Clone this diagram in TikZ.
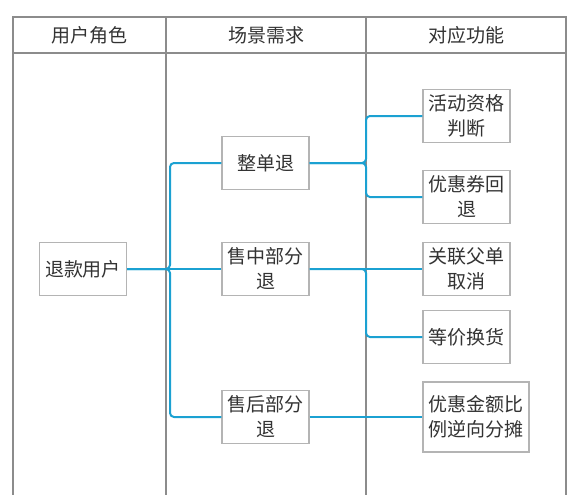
\documentclass[tikz,border=0pt]{standalone}
\usepackage{fontspec}
\newfontfamily\cjk{Noto Sans CJK SC}
\usetikzlibrary{positioning}
\definecolor{linkblue}{HTML}{1BA1D2}
\definecolor{lanegray}{HTML}{8C8C8C}
\definecolor{boxgray}{HTML}{B4B4B4}
\definecolor{txtgray}{HTML}{333333}

\begin{document}
\begin{tikzpicture}
        [x = 1pt, y = -1pt,
        every node/.style = {font = {\cjk\fontsize{19}{25}\selectfont}, text = txtgray},
        box/.style = {draw = boxgray, line width = 1.2pt, fill = white, minimum width = 87pt,
            minimum height = 53pt, align = center, inner sep = 2pt},
        lane/.style = {draw = lanegray, line width = 1.6pt},
        link/.style = {draw = linkblue, line width = 2pt, rounded corners = 4pt}]
        \useasboundingbox (0, 0) rectangle (573, 495);
        % swimlanes
        \draw[lane] (13, 495) -- (13, 17) -- (566, 17) -- (566, 495);
        \draw[lane] (13, 53) -- (566, 53);
        \draw[lane] (166, 17) -- (166, 495);
        \draw[lane] (366, 17) -- (366, 495);
        \node (role) at (89.5, 35) {用户角色};
        \node (scene) at (266, 35) {场景需求};
        \node (func) at (466, 35) {对应功能};
        % nodes
        \node (user) [box] at (83, 269) {退款用户};
        \node (whole) [box] at (265.5, 163) {整单退};
        \node (mid) [box] at (265.5, 269) {售中部分\\退};
        \node (after) [box] at (265.5, 417) {售后部分\\退};
        \node (check) [box] at (466.5, 116) {活动资格\\判断};
        \node (coupon) [box] at (466.5, 197) {优惠券回\\退};
        \node (parent) [box] at (466.5, 269) {关联父单\\取消};
        \node (swap) [box] at (466.5, 337) {等价换货};
        \node (share) [box, minimum width = 106pt, minimum height = 70pt] at (476, 417) {优惠金额比\\例逆向分摊};
        % connectors
        \coordinate (bus1) at (170, 269);
        \coordinate (bus2) at (366, 163);
        \coordinate (bus3) at (366, 269);
        \draw[link] (user.east) -- (bus1) |- (whole.west);
        \draw[link] (user.east) -- (bus1) |- (after.west);
        \draw[link] (user.east) -- (mid.west);
        \draw[link] (whole.east) -- (bus2) |- (check.west);
        \draw[link] (whole.east) -- (bus2) |- (coupon.west);
        \draw[link] (mid.east) -- (bus3) |- (swap.west);
        \draw[link] (mid.east) -- (parent.west);
        \draw[link] (after.east) -- (share.west);
\end{tikzpicture}
\end{document}
